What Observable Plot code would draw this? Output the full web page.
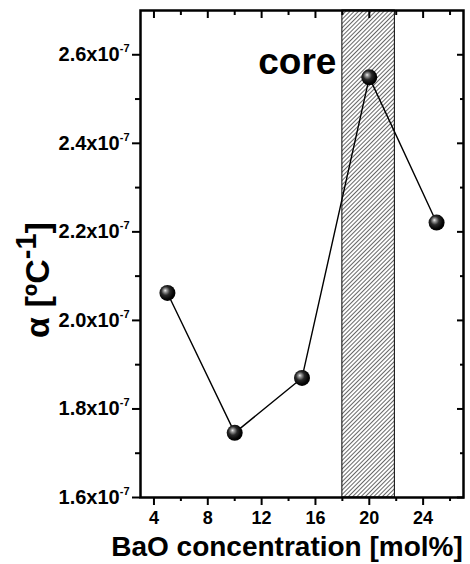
<!DOCTYPE html>
<html><head><meta charset="utf-8">
<script src="https://cdn.jsdelivr.net/npm/d3@7"></script>
<script src="https://cdn.jsdelivr.net/npm/@observablehq/plot@0.6"></script>
<style>
body{margin:0;background:#fff}
#chart svg{font-family:"Liberation Sans",Arial,sans-serif;font-weight:bold;color:#000;background:#fff}
#chart [aria-label="x-axis label"]{font-size:28px}
</style></head><body><div id="chart"></div>
<script>
const concentration = [5, 10, 15, 20, 25];
const alpha = [2.062e-7, 1.746e-7, 1.870e-7, 2.549e-7, 2.221e-7];
const xMajorTicks = [4, 8, 12, 16, 20, 24];
const xMinorTicks = [6, 10, 14, 18, 22, 26];
const yMajorTicks = [1.6e-7, 1.8e-7, 2.0e-7, 2.2e-7, 2.4e-7, 2.6e-7];
const yMinorTicks = [1.7e-7, 1.9e-7, 2.1e-7, 2.3e-7, 2.5e-7];
const coreStart = [18];
const coreEnd = [21.9];
const coreLabel = ["core"];
const xTitle = "BaO concentration [mol%]";
const yTitle = "α [ºC^-1]";

const points = concentration.map((c, i) => ({c, a: alpha[i]}));
const band = coreStart.map((s, i) => ({x1: s, x2: coreEnd[i], label: coreLabel[i]}));

const fmtY = d => (d * 1e7).toFixed(1) + "x10^-7";
const blank = () => "";

const svg = Plot.plot({
  width: 470,
  height: 564,
  marginLeft: 140,
  marginRight: 7,
  marginTop: 10,
  marginBottom: 67,
  x: {domain: [3, 27]},
  y: {domain: [1.6e-7, 2.7e-7]},
  marks: [
    Plot.rect(band, {x1: "x1", x2: "x2", fill: "url(#hatch)", stroke: "#000", strokeWidth: 1}),
    Plot.text(band, {x: "x1", text: "label", frameAnchor: "top", textAnchor: "end", lineAnchor: "bottom", dx: -6, dy: 63, fontSize: 37, fontWeight: "bold"}),
    Plot.line(points, {x: "c", y: "a", stroke: "#000", strokeWidth: 1.4}),
    Plot.dot(points, {x: "c", y: "a", r: 8, fill: "url(#ball)", stroke: "none"}),
    Plot.axisY(yMajorTicks, {anchor: "left", tickSize: 8, tickPadding: 3, strokeWidth: 2, tickFormat: fmtY, fontSize: 20, label: null}),
    Plot.axisY(yMinorTicks, {anchor: "left", tickSize: 5, strokeWidth: 2, tickFormat: blank, label: null}),
    Plot.axisY(yMajorTicks, {anchor: "right", tickSize: 7, insetRight: 7, strokeWidth: 2, tickFormat: blank, label: null}),
    Plot.axisY(yMinorTicks, {anchor: "right", tickSize: 4, insetRight: 4, strokeWidth: 2, tickFormat: blank, label: null}),
    Plot.axisX(xMajorTicks, {anchor: "bottom", tickSize: 8, tickPadding: 6, strokeWidth: 2, fontSize: 18, label: xTitle, labelAnchor: "center", labelArrow: "none", labelOffset: 58}),
    Plot.axisX(xMinorTicks, {anchor: "bottom", tickSize: 4, strokeWidth: 2, tickFormat: blank, label: null}),
    Plot.axisX(xMajorTicks, {anchor: "top", tickSize: 7, insetTop: 7, strokeWidth: 2, tickFormat: blank, label: null}),
    Plot.axisX(xMinorTicks, {anchor: "top", tickSize: 4, insetTop: 4, strokeWidth: 2, tickFormat: blank, label: null}),
    Plot.text([yTitle], {frameAnchor: "left", rotate: -90, textAnchor: "middle", lineAnchor: "bottom", dx: -92, dy: 26, fontSize: 34, fontWeight: "bold"}),
    Plot.frame({stroke: "#000", strokeWidth: 2.5})
  ]
});

// gradient for spheres and hatch pattern for the core band
const defs = d3.select(svg).insert("defs", ":first-child");
const g = defs.append("radialGradient").attr("id", "ball").attr("cx", "0.42").attr("cy", "0.42").attr("r", "0.6").attr("fx", "0.36").attr("fy", "0.34");
[["0", "#f0f0f0"], ["0.15", "#a0a0a0"], ["0.45", "#2a2a2a"], ["0.8", "#050505"], ["1", "#000"]].forEach(([o, c]) => g.append("stop").attr("offset", o).attr("stop-color", c));
const p = defs.append("pattern").attr("id", "hatch").attr("patternUnits", "userSpaceOnUse").attr("width", 3).attr("height", 3).attr("patternTransform", "rotate(45)");
p.append("rect").attr("width", 3).attr("height", 3).attr("fill", "#fff");
p.append("line").attr("x1", 0).attr("y1", 0).attr("x2", 0).attr("y2", 3).attr("stroke", "#000").attr("stroke-width", 1.2);

// superscripts
function sup(el, base, size, shift) {
  const t = el.textContent;
  if (!t.includes("^")) return;
  const [a, rest] = t.split("^");
  const m = rest.match(/^(-?\d+)(.*)$/);
  const s = d3.select(el);
  s.style("font-size", base);
  s.text(a);
  s.append("tspan").style("font-size", size).attr("dy", -shift).text(m[1]);
  if (m[2]) s.append("tspan").style("font-size", base).attr("dy", shift).text(m[2]);
}
d3.select(svg).selectAll('[aria-label="y-axis tick label"] text').each(function() { sup(this, "20px", "11px", 9); });
d3.select(svg).selectAll('[aria-label="text"] text').each(function() { sup(this, "34px", "29px", 13); });
d3.select(svg).select('[aria-label="x-axis label"]').attr("transform", function() {
  const t = this.getAttribute("transform") || "";
  return t + " translate(-15,0)";
});

document.getElementById("chart").appendChild(svg);
</script></body></html>
